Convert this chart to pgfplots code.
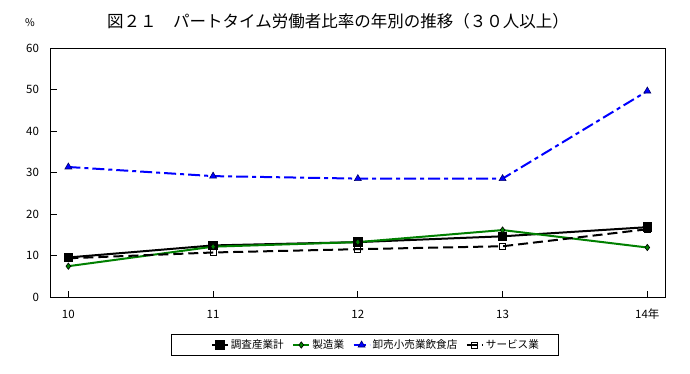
\documentclass[border=0pt]{standalone}
\usepackage{fontspec}
\setmainfont{Noto Sans CJK JP}
\usepackage{pgfplots}
\pgfplotsset{compat=1.18}
\definecolor{cgreen}{RGB}{0,128,0}
\definecolor{cblue}{RGB}{0,0,255}
\begin{document}
\begin{tikzpicture}[x=1pt,y=1pt]
\path[use as bounding box] (0,0) rectangle (690,373);
\node[font=\fontsize{16.5}{18}\selectfont] at (338,351.5) {図２１　パートタイム労働者比率の年別の推移（３０人以上）};
\node[font=\fontsize{10.5}{12}\selectfont] at (30,350) {\%};
\draw[line width=1.2pt] (171.7,17.3) rectangle (558.3,38.7);
\begin{axis}[
  at={(50.7pt,75.7pt)}, anchor=south west,
  scale only axis, width=615pt, height=249pt,
  xmin=9.878, xmax=14.127, ymin=0, ymax=60,
  xtick={10,11,12,13,14}, xticklabels={10,11,12,13,14年},
  ytick={0,10,20,30,40,50,60},
  xtick pos=bottom, ytick pos=left,
  tick align=inside, major tick length=6.5pt,
  every tick/.style={black, line width=1.2pt},
  axis line style={line width=1.3pt},
  /pgf/number format/assume math mode=true,
  ticklabel style={font=\fontsize{11.5}{12}\selectfont},
  yticklabel style={anchor=east, inner sep=0pt, xshift=-11.5pt},
  xticklabel style={anchor=center, inner sep=0pt, yshift=-17pt},
  legend columns=4,
  legend style={draw=none, fill=none, at={(0.2600,-0.1916)}, anchor=west,
    font=\fontsize{10.6}{12}\selectfont, inner sep=0pt,
    nodes={inner xsep=2pt, inner ysep=1pt},
    /tikz/every even column/.append style={column sep=6.5pt}},
  legend cell align=left,
  legend image code/.code={\draw[#1, mark repeat=2, mark phase=2] plot coordinates {(0pt,0pt) (8pt,0pt) (16pt,0pt)};},
]
\addplot[black, line width=2pt, mark=square*, mark size=3.7pt, mark options={solid, fill=black}]
  coordinates {(10,9.6) (11,12.5) (12,13.3) (13,14.7) (14,16.9)};
\addlegendentry{調査産業計}
\addplot[cgreen, line width=2pt, mark=diamond*, mark size=3.2pt, mark options={solid, fill=cgreen, draw=black, line width=0.6pt}]
  coordinates {(10,7.5) (11,12.2) (12,13.3) (13,16.2) (14,12.0)};
\addlegendentry{製造業}
\addplot[cblue, line width=2pt, dash pattern=on 12pt off 4pt on 4pt off 4pt, mark=triangle*, mark size=4pt, mark options={solid, fill=cblue, draw=black!60!blue, line width=0.6pt}]
  coordinates {(10,31.4) (11,29.2) (12,28.6) (13,28.6) (14,49.7)};
\addlegendentry{卸売小売業飲食店}
\addplot[black, line width=2pt, dash pattern=on 10pt off 5pt, mark=square, mark size=3pt, mark options={solid, fill=white, line width=1pt}]
  coordinates {(10,9.4) (11,10.8) (12,11.6) (13,12.3) (14,16.4)};
\addlegendentry{サービス業}
\end{axis}
\end{tikzpicture}
\end{document}
